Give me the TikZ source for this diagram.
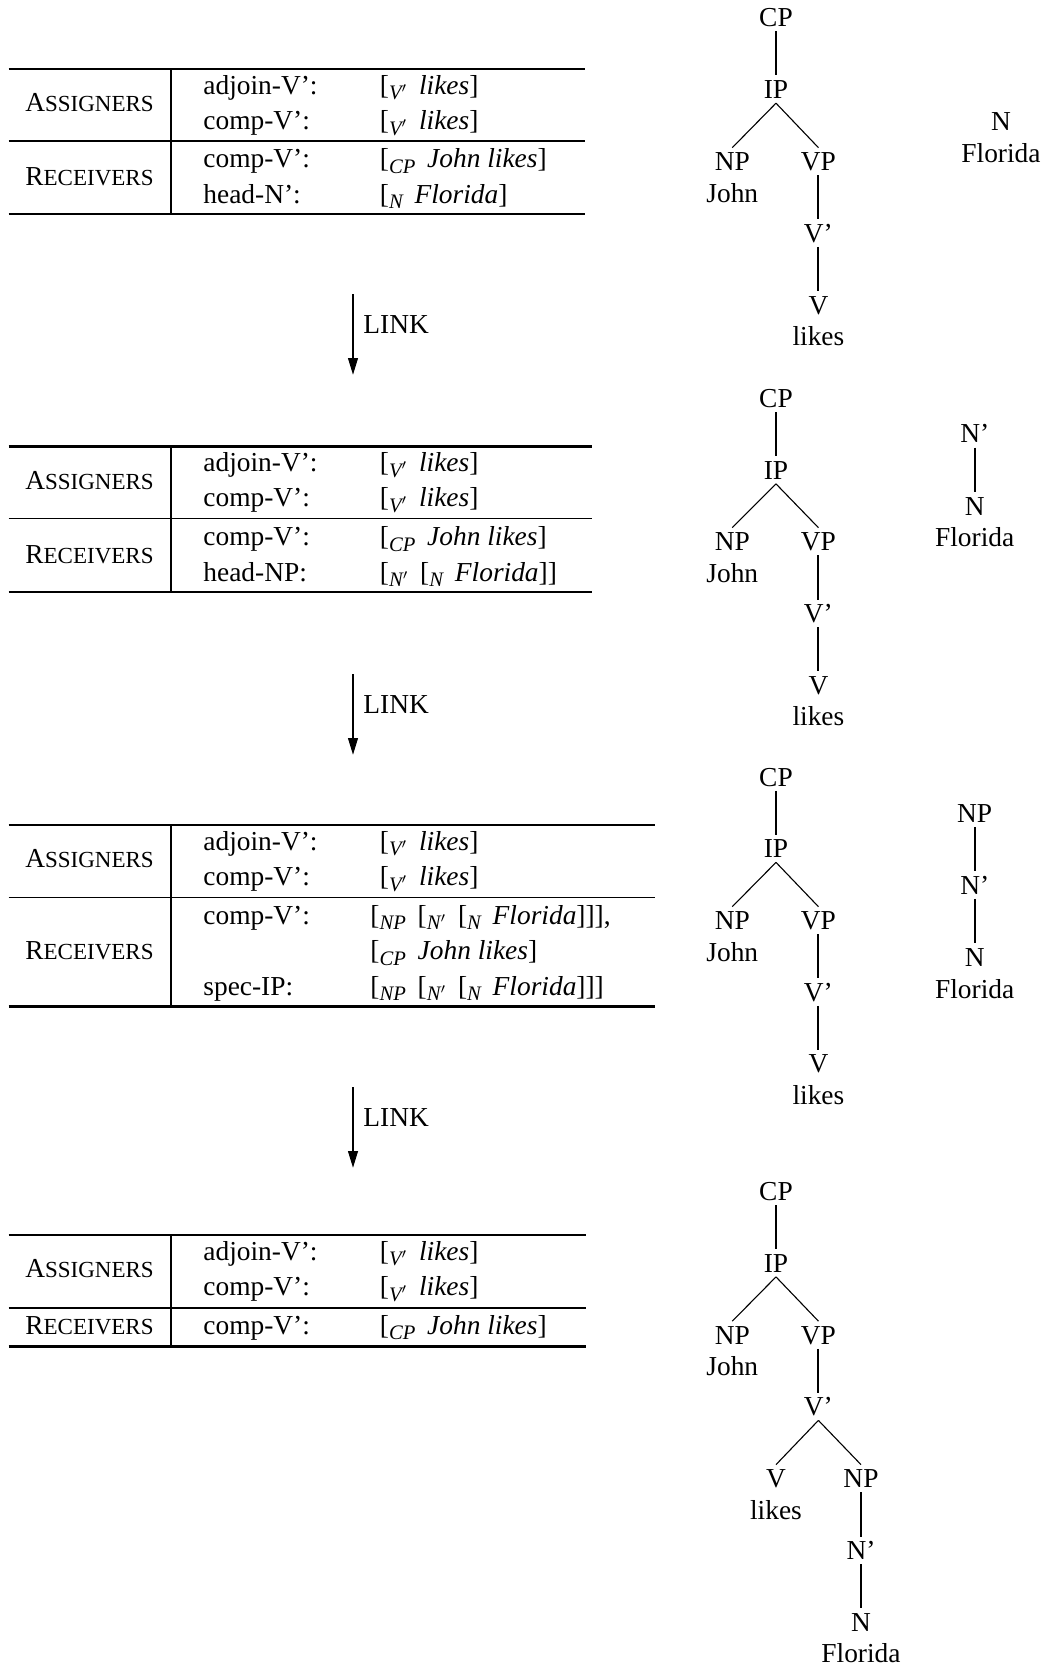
\documentclass[tikz,border=0pt]{standalone}
\usepackage{fontspec}
\setmainfont{Liberation Serif}
\usetikzlibrary{arrows.meta}

% fake small caps as in the printed tables
\newcommand{\fsc}[2]{#1{\fontsize{11.5}{13}\selectfont #2}}
% labelled bracket: [ with an italic subscript label
\newcommand{\lbr}[1]{[\raisebox{-2.8pt}{\fontsize{10.3}{12}\selectfont\itshape #1}\kern2.5pt\relax}

\begin{document}
\begin{tikzpicture}[x=0.5pt,y=-0.5pt,
  every node/.style={font=\fontsize{13.7}{16}\selectfont, inner sep=0pt},
  heavyrule/.style={line width=1.2pt},
  lightrule/.style={line width=0.7pt},
  cell/.style={anchor=base west},
  cat/.style={anchor=base},
  linkarrow/.style={line width=1.15pt, -{Triangle[length=8.5pt,width=4.8pt]}},
  linklabel/.style={anchor=base west},
  tn/.style={text height=9.07pt, text depth=0pt, inner xsep=1pt, inner ysep=2.2pt},
  vedge/.style={line width=1.05pt},
  dedge/.style={line width=0.55pt}
]
\useasboundingbox (0,0) rectangle (1048,1667);

%% ---------- table 1 ----------
\draw[heavyrule] (8.5,69) -- (584.6,69);
\draw[lightrule] (8.5,141) -- (584.6,141);
\draw[heavyrule] (8.5,214) -- (584.6,214);
\draw[lightrule] (171,69) -- (171,214);
\node[cat] (t1as) at (89.5,111.75) {\fsc{A}{SSIGNERS}};
\node[cat] (t1re) at (89.5,185.25) {\fsc{R}{ECEIVERS}};
\node[cell] (t1r1a) at (203,94) {adjoin-V':};
\node[cell] (t1r1b) at (379.5,94) {\lbr{V$'$} \textit{likes}]};
\node[cell] (t1r2a) at (203,129.5) {comp-V':};
\node[cell] (t1r2b) at (379.5,129.5) {\lbr{V$'$} \textit{likes}]};
\node[cell] (t1r3a) at (203,167.5) {comp-V':};
\node[cell] (t1r3b) at (379.5,167.5) {\lbr{CP} \textit{John likes}]};
\node[cell] (t1r4a) at (203,203) {head-N':};
\node[cell] (t1r4b) at (379.5,203) {\lbr{N} \textit{Florida}]};

%% ---------- link 1 ----------
\coordinate (a1s) at (353,294);
\coordinate (a1e) at (353,375);
\draw[linkarrow] (a1s) -- (a1e);
\node[linklabel] (l1) at (363,333) {LINK};

%% ---------- table 2 ----------
\draw[heavyrule] (8.5,446.4) -- (592,446.4);
\draw[lightrule] (8.5,518.5) -- (592,518.5);
\draw[heavyrule] (8.5,592) -- (592,592);
\draw[lightrule] (171,446.4) -- (171,592);
\node[cat] (t2as) at (89.5,489) {\fsc{A}{SSIGNERS}};
\node[cat] (t2re) at (89.5,563.25) {\fsc{R}{ECEIVERS}};
\node[cell] (t2r1a) at (203,471.5) {adjoin-V':};
\node[cell] (t2r1b) at (379.5,471.5) {\lbr{V$'$} \textit{likes}]};
\node[cell] (t2r2a) at (203,506.5) {comp-V':};
\node[cell] (t2r2b) at (379.5,506.5) {\lbr{V$'$} \textit{likes}]};
\node[cell] (t2r3a) at (203,545.5) {comp-V':};
\node[cell] (t2r3b) at (379.5,545.5) {\lbr{CP} \textit{John likes}]};
\node[cell] (t2r4a) at (203,581) {head-NP:};
\node[cell] (t2r4b) at (379.5,581) {\lbr{N$'$} \lbr{N} \textit{Florida}]]};

%% ---------- link 2 ----------
\coordinate (a2s) at (353,674);
\coordinate (a2e) at (353,755);
\draw[linkarrow] (a2s) -- (a2e);
\node[linklabel] (l2) at (363,713) {LINK};

%% ---------- table 3 ----------
\draw[heavyrule] (8.5,824.8) -- (654.8,824.8);
\draw[lightrule] (8.5,897.5) -- (654.8,897.5);
\draw[heavyrule] (8.5,1006.6) -- (654.8,1006.6);
\draw[lightrule] (171,824.8) -- (171,1006.6);
\node[cat] (t3as) at (89.5,867.75) {\fsc{A}{SSIGNERS}};
\node[cat] (t3re) at (89.5,959.5) {\fsc{R}{ECEIVERS}};
\node[cell] (t3r1a) at (203,850) {adjoin-V':};
\node[cell] (t3r1b) at (379.5,850) {\lbr{V$'$} \textit{likes}]};
\node[cell] (t3r2a) at (203,885.5) {comp-V':};
\node[cell] (t3r2b) at (379.5,885.5) {\lbr{V$'$} \textit{likes}]};
\node[cell] (t3r3a) at (203,924) {comp-V':};
\node[cell] (t3r3b) at (370,924) {\lbr{NP} \lbr{N$'$} \lbr{N} \textit{Florida}]]],};
\node[cell] (t3r4b) at (370,959.5) {\lbr{CP} \textit{John likes}]};
\node[cell] (t3r5a) at (203,995) {spec-IP:};
\node[cell] (t3r5b) at (370,995) {\lbr{NP} \lbr{N$'$} \lbr{N} \textit{Florida}]]]};

%% ---------- link 3 ----------
\coordinate (a3s) at (353,1087);
\coordinate (a3e) at (353,1168);
\draw[linkarrow] (a3s) -- (a3e);
\node[linklabel] (l3) at (363,1126) {LINK};

%% ---------- table 4 ----------
\draw[heavyrule] (8.5,1235) -- (585.7,1235);
\draw[lightrule] (8.5,1308) -- (585.7,1308);
\draw[heavyrule] (8.5,1346.5) -- (585.7,1346.5);
\draw[lightrule] (171,1235) -- (171,1346.5);
\node[cat] (t4as) at (89.5,1277.75) {\fsc{A}{SSIGNERS}};
\node[cat] (t4re) at (89.5,1334) {\fsc{R}{ECEIVERS}};
\node[cell] (t4r1a) at (203,1260) {adjoin-V':};
\node[cell] (t4r1b) at (379.5,1260) {\lbr{V$'$} \textit{likes}]};
\node[cell] (t4r2a) at (203,1295.5) {comp-V':};
\node[cell] (t4r2b) at (379.5,1295.5) {\lbr{V$'$} \textit{likes}]};
\node[cell] (t4r3a) at (203,1334) {comp-V':};
\node[cell] (t4r3b) at (379.5,1334) {\lbr{CP} \textit{John likes}]};

%% ---------- tree 1 ----------
\node[tn] (a-cp) at (776,17.3) {CP};
\node[tn] (a-ip) at (776,89.3) {IP};
\node[tn] (a-np) at (732.3,161.5) {NP};
\node[tn] (a-john) at (732.3,193) {John};
\node[tn] (a-vp) at (818.4,161.5) {VP};
\node[tn] (a-vb) at (818.4,233) {V'};
\node[tn] (a-v) at (818.4,305) {V};
\node[tn] (a-likes) at (818.4,336.5) {likes};
\node[tn] (a-n) at (1001,121.7) {N};
\node[tn] (a-fl) at (1001,153) {Florida};
\draw[vedge] (a-cp.south) -- (a-ip.north);
\draw[dedge] (a-ip.south) -- (a-np.north);
\draw[dedge] (a-ip.south) -- (a-vp.north);
\draw[vedge] (a-vp.south) -- (a-vb.north);
\draw[vedge] (a-vb.south) -- (a-v.north);

%% ---------- tree 2 ----------
\node[tn] (b-cp) at (776,398.6) {CP};
\node[tn] (b-ip) at (776,470) {IP};
\node[tn] (b-np) at (732.3,541.5) {NP};
\node[tn] (b-john) at (732.3,573) {John};
\node[tn] (b-vp) at (818.4,541.5) {VP};
\node[tn] (b-vb) at (818.4,613.5) {V'};
\node[tn] (b-v) at (818.4,685) {V};
\node[tn] (b-likes) at (818.4,716.5) {likes};
\node[tn] (b-nb) at (974.7,433.7) {N'};
\node[tn] (b-n) at (974.7,506) {N};
\node[tn] (b-fl) at (974.7,537.5) {Florida};
\draw[vedge] (b-cp.south) -- (b-ip.north);
\draw[dedge] (b-ip.south) -- (b-np.north);
\draw[dedge] (b-ip.south) -- (b-vp.north);
\draw[vedge] (b-vp.south) -- (b-vb.north);
\draw[vedge] (b-vb.south) -- (b-v.north);
\draw[vedge] (b-nb.south) -- (b-n.north);

%% ---------- tree 3 ----------
\node[tn] (c-cp) at (776,777) {CP};
\node[tn] (c-ip) at (776,848.5) {IP};
\node[tn] (c-np) at (732.3,920.5) {NP};
\node[tn] (c-john) at (732.3,952) {John};
\node[tn] (c-vp) at (818.4,920.5) {VP};
\node[tn] (c-vb) at (818.4,992) {V'};
\node[tn] (c-v) at (818.4,1063.5) {V};
\node[tn] (c-likes) at (818.4,1095) {likes};
\node[tn] (c-onp) at (974.7,813) {NP};
\node[tn] (c-nb) at (974.7,885) {N'};
\node[tn] (c-n) at (974.7,957) {N};
\node[tn] (c-fl) at (974.7,989) {Florida};
\draw[vedge] (c-cp.south) -- (c-ip.north);
\draw[dedge] (c-ip.south) -- (c-np.north);
\draw[dedge] (c-ip.south) -- (c-vp.north);
\draw[vedge] (c-vp.south) -- (c-vb.north);
\draw[vedge] (c-vb.south) -- (c-v.north);
\draw[vedge] (c-onp.south) -- (c-nb.north);
\draw[vedge] (c-nb.south) -- (c-n.north);

%% ---------- tree 4 ----------
\node[tn] (d-cp) at (776,1191.5) {CP};
\node[tn] (d-ip) at (776,1263) {IP};
\node[tn] (d-np) at (732.3,1335) {NP};
\node[tn] (d-john) at (732.3,1366.5) {John};
\node[tn] (d-vp) at (818.4,1335) {VP};
\node[tn] (d-vb) at (818.4,1406.5) {V'};
\node[tn] (d-v) at (776,1478.5) {V};
\node[tn] (d-likes) at (776,1510) {likes};
\node[tn] (d-onp) at (861,1478.5) {NP};
\node[tn] (d-nb) at (861,1550.5) {N'};
\node[tn] (d-n) at (861,1622) {N};
\node[tn] (d-fl) at (861,1653.5) {Florida};
\draw[vedge] (d-cp.south) -- (d-ip.north);
\draw[dedge] (d-ip.south) -- (d-np.north);
\draw[dedge] (d-ip.south) -- (d-vp.north);
\draw[vedge] (d-vp.south) -- (d-vb.north);
\draw[dedge] (d-vb.south) -- (d-v.north);
\draw[dedge] (d-vb.south) -- (d-onp.north);
\draw[vedge] (d-onp.south) -- (d-nb.north);
\draw[vedge] (d-nb.south) -- (d-n.north);
\end{tikzpicture}
\end{document}
